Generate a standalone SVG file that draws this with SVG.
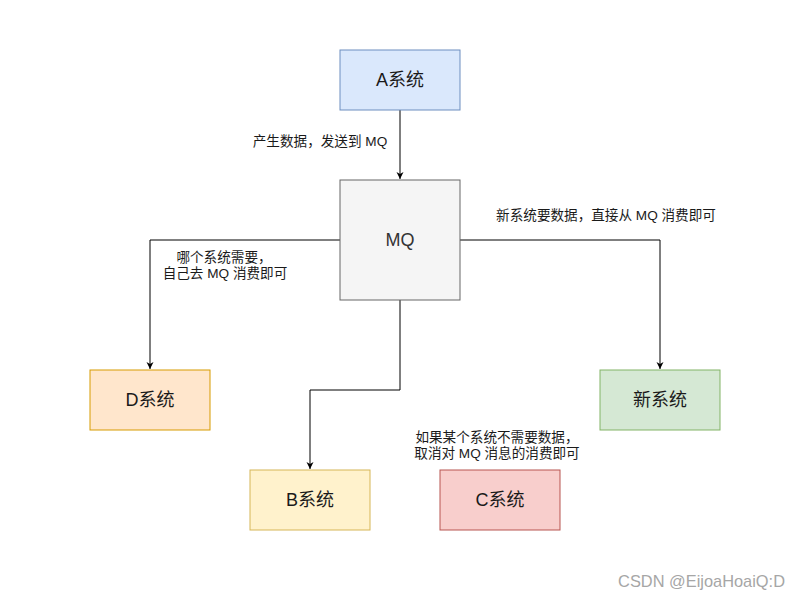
<svg xmlns="http://www.w3.org/2000/svg" width="800" height="600" viewBox="0 0 800 600">
<defs>
<marker id="arr" markerWidth="10" markerHeight="10" refX="8" refY="5" orient="auto" markerUnits="userSpaceOnUse">
<path d="M1,1.5 L8,5 L1,8.5 L3,5 Z" fill="#000"/>
</marker>
<style>
.box{stroke-width:1}
.t{font-family:"Helvetica","Liberation Sans","Noto Sans CJK SC",sans-serif;font-size:18px;fill:#1a1a1a;text-anchor:middle;dominant-baseline:central}
.l{font-family:"Helvetica","Liberation Sans","Noto Sans CJK SC",sans-serif;font-size:13.6px;fill:#1a1a1a;text-anchor:middle}
.c{fill:none;stroke:#000;stroke-width:1;marker-end:url(#arr)}
</style>
</defs>
<rect width="800" height="600" fill="#fff"/>
<g id="connectors">
<path class="c" d="M400,110 L400,179"/>
<path class="c" d="M340,240 L150,240 L150,369"/>
<path class="c" d="M400,300 L400,390 L310,390 L310,469"/>
<path class="c" d="M460,240 L660,240 L660,369"/>
</g>
<g id="A"><rect class="box" x="340" y="50" width="120" height="60" fill="#dae8fc" stroke="#6c8ebf"/><text class="t" x="400" y="80">A系统</text></g>
<g id="MQ"><rect class="box" x="340" y="180" width="120" height="120" fill="#f5f5f5" stroke="#666666"/><text class="t" x="400" y="240" style="fill:#333">MQ</text></g>
<g id="D"><rect class="box" x="90" y="370" width="120" height="60" fill="#ffe6cc" stroke="#d79b00"/><text class="t" x="150" y="400">D系统</text></g>
<g id="B"><rect class="box" x="250" y="470" width="120" height="60" fill="#fff2cc" stroke="#d6b656"/><text class="t" x="310" y="500">B系统</text></g>
<g id="C"><rect class="box" x="440" y="470" width="120" height="60" fill="#f8cecc" stroke="#b85450"/><text class="t" x="500" y="500">C系统</text></g>
<g id="New"><rect class="box" x="600" y="370" width="120" height="60" fill="#d5e8d4" stroke="#82b366"/><text class="t" x="660" y="400">新系统</text></g>
<g id="labels">
<text class="l" x="320" y="146">产生数据，发送到 MQ</text>
<text class="l" x="224" y="262">哪个系统需要，</text>
<text class="l" x="225" y="278">自己去 MQ 消费即可</text>
<text class="l" x="606" y="220">新系统要数据，直接从 MQ 消费即可</text>
<text class="l" x="497" y="442">如果某个系统不需要数据，</text>
<text class="l" x="497" y="458">取消对 MQ 消息的消费即可</text>
</g>
<text x="785" y="587" text-anchor="end" style="font-family:'Liberation Sans','Noto Sans CJK SC',sans-serif;font-size:16.4px;fill:#a6a6a6">CSDN @EijoaHoaiQ:D</text>
</svg>
